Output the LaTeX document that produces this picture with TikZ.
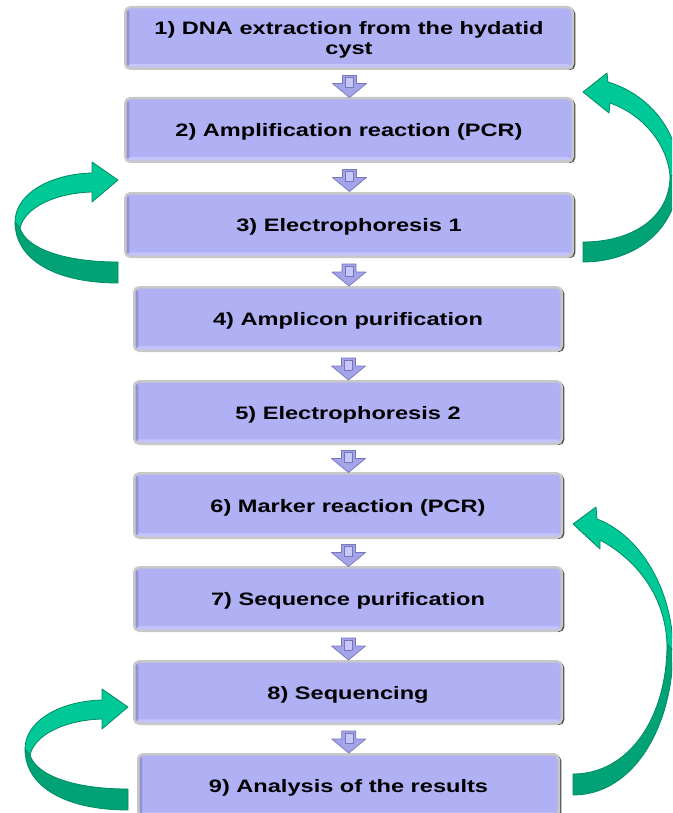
\documentclass[tikz,border=0pt]{standalone}
\usepackage{fontspec}
\setmainfont{Liberation Sans}[FakeStretch=1.31]
\usetikzlibrary{calc,shadows}

\definecolor{boxfill}{RGB}{176,176,245}
\definecolor{boxinner}{RGB}{146,146,212}
\definecolor{boxlow}{RGB}{196,196,250}
\definecolor{boxrim}{RGB}{200,200,200}
\definecolor{boxshade}{RGB}{80,80,80}
\definecolor{arrowfill}{RGB}{164,164,232}
\definecolor{arrowedge}{RGB}{118,118,190}
\definecolor{arrowlight}{RGB}{200,200,248}
\definecolor{greenlight}{RGB}{0,200,150}
\definecolor{greendark}{RGB}{0,162,118}
\definecolor{greenedge}{RGB}{0,140,100}

\tikzset{
  stage/.style={
    rectangle, rounded corners=5pt, draw=boxrim, line width=2.5pt, fill=boxfill,
    inner sep=0pt, align=center, text=black, text depth=0pt,
    font=\fontsize{18}{19.5}\selectfont\bfseries,
    drop shadow={shadow xshift=2.5pt, shadow yshift=-1.2pt, fill=boxshade, opacity=1},
    path picture={
      \fill[boxlow] (path picture bounding box.south west) rectangle ([yshift=4.5pt]path picture bounding box.south east);
      \fill[boxinner] (path picture bounding box.south west) rectangle ([xshift=4pt]path picture bounding box.north west);
    }
  },
  loopband/.style={draw=greenedge, line width=0.8pt, line join=round},
  pics/stepdown/.style={code={
    \filldraw[fill=arrowfill, draw=arrowedge, line width=0.7pt, line join=round]
      (-7,-8) -- (7,-8) -- (7,0) -- (17,0) -- (0,14) -- (-17,0) -- (-7,0) -- cycle;
    \filldraw[fill=arrowlight, draw=arrowedge, line width=0.5pt] (-4,-6) rectangle (4,4);
  }},
  % loop arrow bending round on the left, tip at the origin
  pics/leftloop/.style={code={
    \filldraw[loopband, fill=greendark]
      (0,103) .. controls (-62,103) and (-103,80) .. (-103,42)
      -- (-98,48) .. controls (-92,68) and (-55,82) .. (0,82) -- cycle;
    \filldraw[loopband, fill=greenlight]
      (-103,42) .. controls (-103,14) and (-68,-6) .. (-26,-7)
      -- (-26,-18) -- (0,0) -- (-26,22) -- (-26,12)
      .. controls (-62,13) and (-93,27) .. (-98,48) -- cycle;
  }},
  % short loop arrow on the right, tip at the origin
  pics/rightloopshort/.style={code={
    \filldraw[loopband, fill=greendark]
      (96,82) .. controls (96,135) and (55,170) .. (0,170)
      -- (0,150) .. controls (50,150) and (87,125) .. (87,84) -- cycle;
    \filldraw[loopband, fill=greenlight]
      (25,-10) .. controls (65,2) and (96,38) .. (96,82)
      -- (87,84) .. controls (84,50) and (58,22) .. (27,11)
      -- (26,21) -- (0,0) -- (24,-19) -- cycle;
  }},
  % long loop arrow on the right, tip at the origin
  pics/rightlooplong/.style={code={
    \filldraw[loopband, fill=greendark]
      (100,126) .. controls (100,200) and (62,271) .. (0,271)
      -- (0,250) .. controls (55,250) and (94,195) .. (94,120) -- cycle;
    \filldraw[loopband, fill=greenlight]
      (24,-5) .. controls (67,11) and (100,66) .. (100,126)
      -- (94,120) .. controls (92,70) and (62,35) .. (27,16)
      -- (27,25) -- (0,0) -- (23,-17) -- cycle;
  }}
}

\begin{document}
\begin{tikzpicture}[x=1pt, y=-1pt]
  \clip (0,0) rectangle (672,813);
  \fill[white] (0,0) rectangle (672,813);

  % process steps
  \node[stage, minimum width=447.5pt, minimum height=61.5pt] (b1) at (349,38)
    {1) DNA extraction from the hydatid\\cyst};
  \node[stage, minimum width=447.5pt, minimum height=63.5pt] (b2) at (349,130)
    {2) Amplification reaction (PCR)};
  \node[stage, minimum width=447.5pt, minimum height=63.5pt] (b3) at (349,225)
    {3) Electrophoresis 1};
  \node[stage, minimum width=427.5pt, minimum height=63.5pt] (b4) at (348,319)
    {4) Amplicon purification};
  \node[stage, minimum width=427.5pt, minimum height=62.5pt] (b5) at (348,412.5)
    {5) Electrophoresis 2};
  \node[stage, minimum width=427.5pt, minimum height=64.5pt] (b6) at (348,505.5)
    {6) Marker reaction (PCR)};
  \node[stage, minimum width=427.5pt, minimum height=63.5pt] (b7) at (348,599)
    {7) Sequence purification};
  \node[stage, minimum width=427.5pt, minimum height=62.5pt] (b8) at (348,692.5)
    {8) Sequencing};
  \node[stage, minimum width=420.5pt, minimum height=62.5pt] (b9) at (348.5,785.5)
    {9) Analysis of the results};

  % small arrows between consecutive steps
  \foreach \a/\b in {b1/b2,b2/b3,b3/b4,b4/b5,b5/b6,b6/b7,b7/b8,b8/b9}
    \pic at ($(\a.south)!0.5!(\b.north)+(0.5,0)$) {stepdown};

  % feedback loops
  \coordinate (tipL1) at (118,180);
  \coordinate (tipL2) at (128,707);
  \coordinate (tipR1) at (583,92);
  \coordinate (tipR2) at (573,524);
  \pic at (tipL1) {leftloop};
  \pic at (tipL2) {leftloop};
  \pic at (tipR1) {rightloopshort};
  \pic at (tipR2) {rightlooplong};
\end{tikzpicture}
\end{document}
